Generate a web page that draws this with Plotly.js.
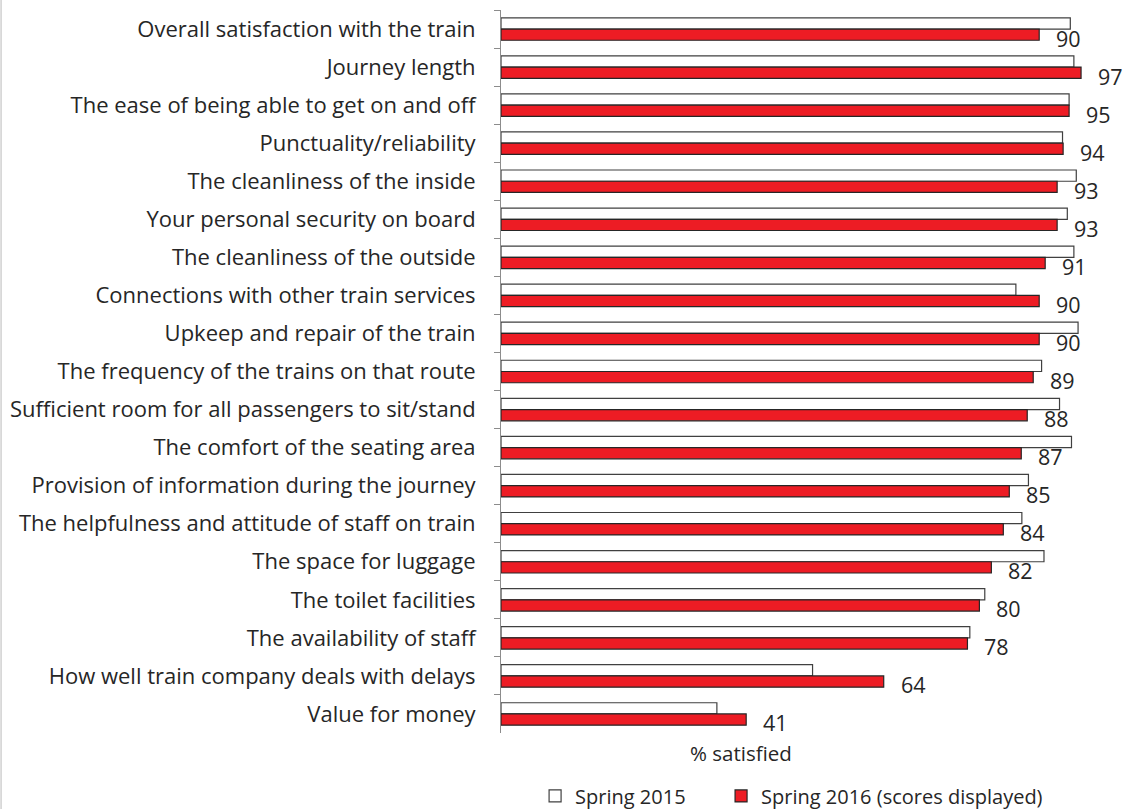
<!DOCTYPE html>
<html>
<head>
<meta charset="utf-8">
<script src="https://cdn.plot.ly/plotly-3.0.1.min.js"></script>
<style>html,body{margin:0;padding:0;background:#fff;}#chart{width:1129px;height:809px;}</style>
</head>
<body>
<div id="chart"></div>
<script>
const categories = [
  "Overall satisfaction with the train",
  "Journey length",
  "The ease of being able to get on and off",
  "Punctuality/reliability",
  "The cleanliness of the inside",
  "Your personal security on board",
  "The cleanliness of the outside",
  "Connections with other train services",
  "Upkeep and repair of the train",
  "The frequency of the trains on that route",
  "Sufficient room for all passengers to sit/stand",
  "The comfort of the seating area",
  "Provision of information during the journey",
  "The helpfulness and attitude of staff on train",
  "The space for luggage",
  "The toilet facilities",
  "The availability of staff",
  "How well train company deals with delays",
  "Value for money"
];
const spring2015 = [95.2, 95.8, 95.0, 93.9, 96.2, 94.7, 95.8, 86.1, 96.5, 90.4, 93.4, 95.4, 88.2, 87.1, 90.8, 80.9, 78.4, 52.1, 36.1];
const spring2016 = [90, 97, 95, 94, 93, 93, 91, 90, 90, 89, 88, 87, 85, 84, 82, 80, 78, 64, 41];
const seriesNames = ["Spring 2015", "Spring 2016 (scores displayed)"];

const FONT = "'Open Sans', 'Noto Sans', sans-serif";
const TXT = "#262626";

const traces = [
  {type: "bar", orientation: "h", name: seriesNames[0], y: categories, x: spring2015,
   marker: {color: "#ffffff", line: {color: "#404040", width: 1.2}}, hoverinfo: "x+y", legend: "legend"},
  {type: "bar", orientation: "h", name: seriesNames[1], y: categories, x: spring2016,
   marker: {color: "#ED1C24", line: {color: "#262626", width: 1.2}}, hoverinfo: "x+y", legend: "legend2"}
];

const annotations = categories.map((c, i) => ({
  x: spring2016[i], y: c, xref: "x", yref: "y",
  text: String(spring2016[i]), showarrow: false,
  xanchor: "left", yanchor: "middle", xshift: 15, yshift: -9,
  font: {family: FONT, size: 21.5, color: TXT}
}));
annotations.push({
  xref: "paper", yref: "paper", x: 0.401, y: -0.0277, xanchor: "center", yanchor: "middle",
  text: "% satisfied", showarrow: false, font: {family: FONT, size: 20.5, color: TXT}
});

const legendCommon = {orientation: "h", xanchor: "left", y: -0.087, yanchor: "middle",
  font: {family: FONT, size: 20, color: TXT}, itemwidth: 30, bgcolor: "rgba(0,0,0,0)"};

const layout = {
  width: 1129, height: 809,
  margin: {l: 501, r: 30, t: 10, b: 76, autoexpand: false},
  paper_bgcolor: "#ffffff", plot_bgcolor: "#ffffff",
  barmode: "group", bargap: 0.41, bargroupgap: 0,
  font: {family: FONT, color: TXT},
  xaxis: {range: [0, 100], showticklabels: false, showgrid: false, zeroline: false, showline: false, ticks: ""},
  yaxis: {type: "category", range: [categories.length - 0.5, -0.5], autorange: false,
          showgrid: false, zeroline: false, automargin: false,
          showline: true, linecolor: "#8c8c8c", linewidth: 1,
          ticks: "outside", tickson: "boundaries", ticklen: 6, tickcolor: "#8c8c8c",
          ticklabelstandoff: 20,
          tickfont: {family: FONT, size: 22, color: TXT}},
  showlegend: true,
  legend: Object.assign({}, legendCommon, {x: 0.057}),
  legend2: Object.assign({}, legendCommon, {x: 0.368}),
  annotations: annotations,
  shapes: [{type: "line", xref: "paper", yref: "paper", x0: -0.836, x1: -0.836, y0: -0.12, y1: 1.02,
            line: {color: "#d0d0d0", width: 1.5}}]
};

Plotly.newPlot("chart", traces, layout, {displayModeBar: false, staticPlot: true});
</script>
</body>
</html>
